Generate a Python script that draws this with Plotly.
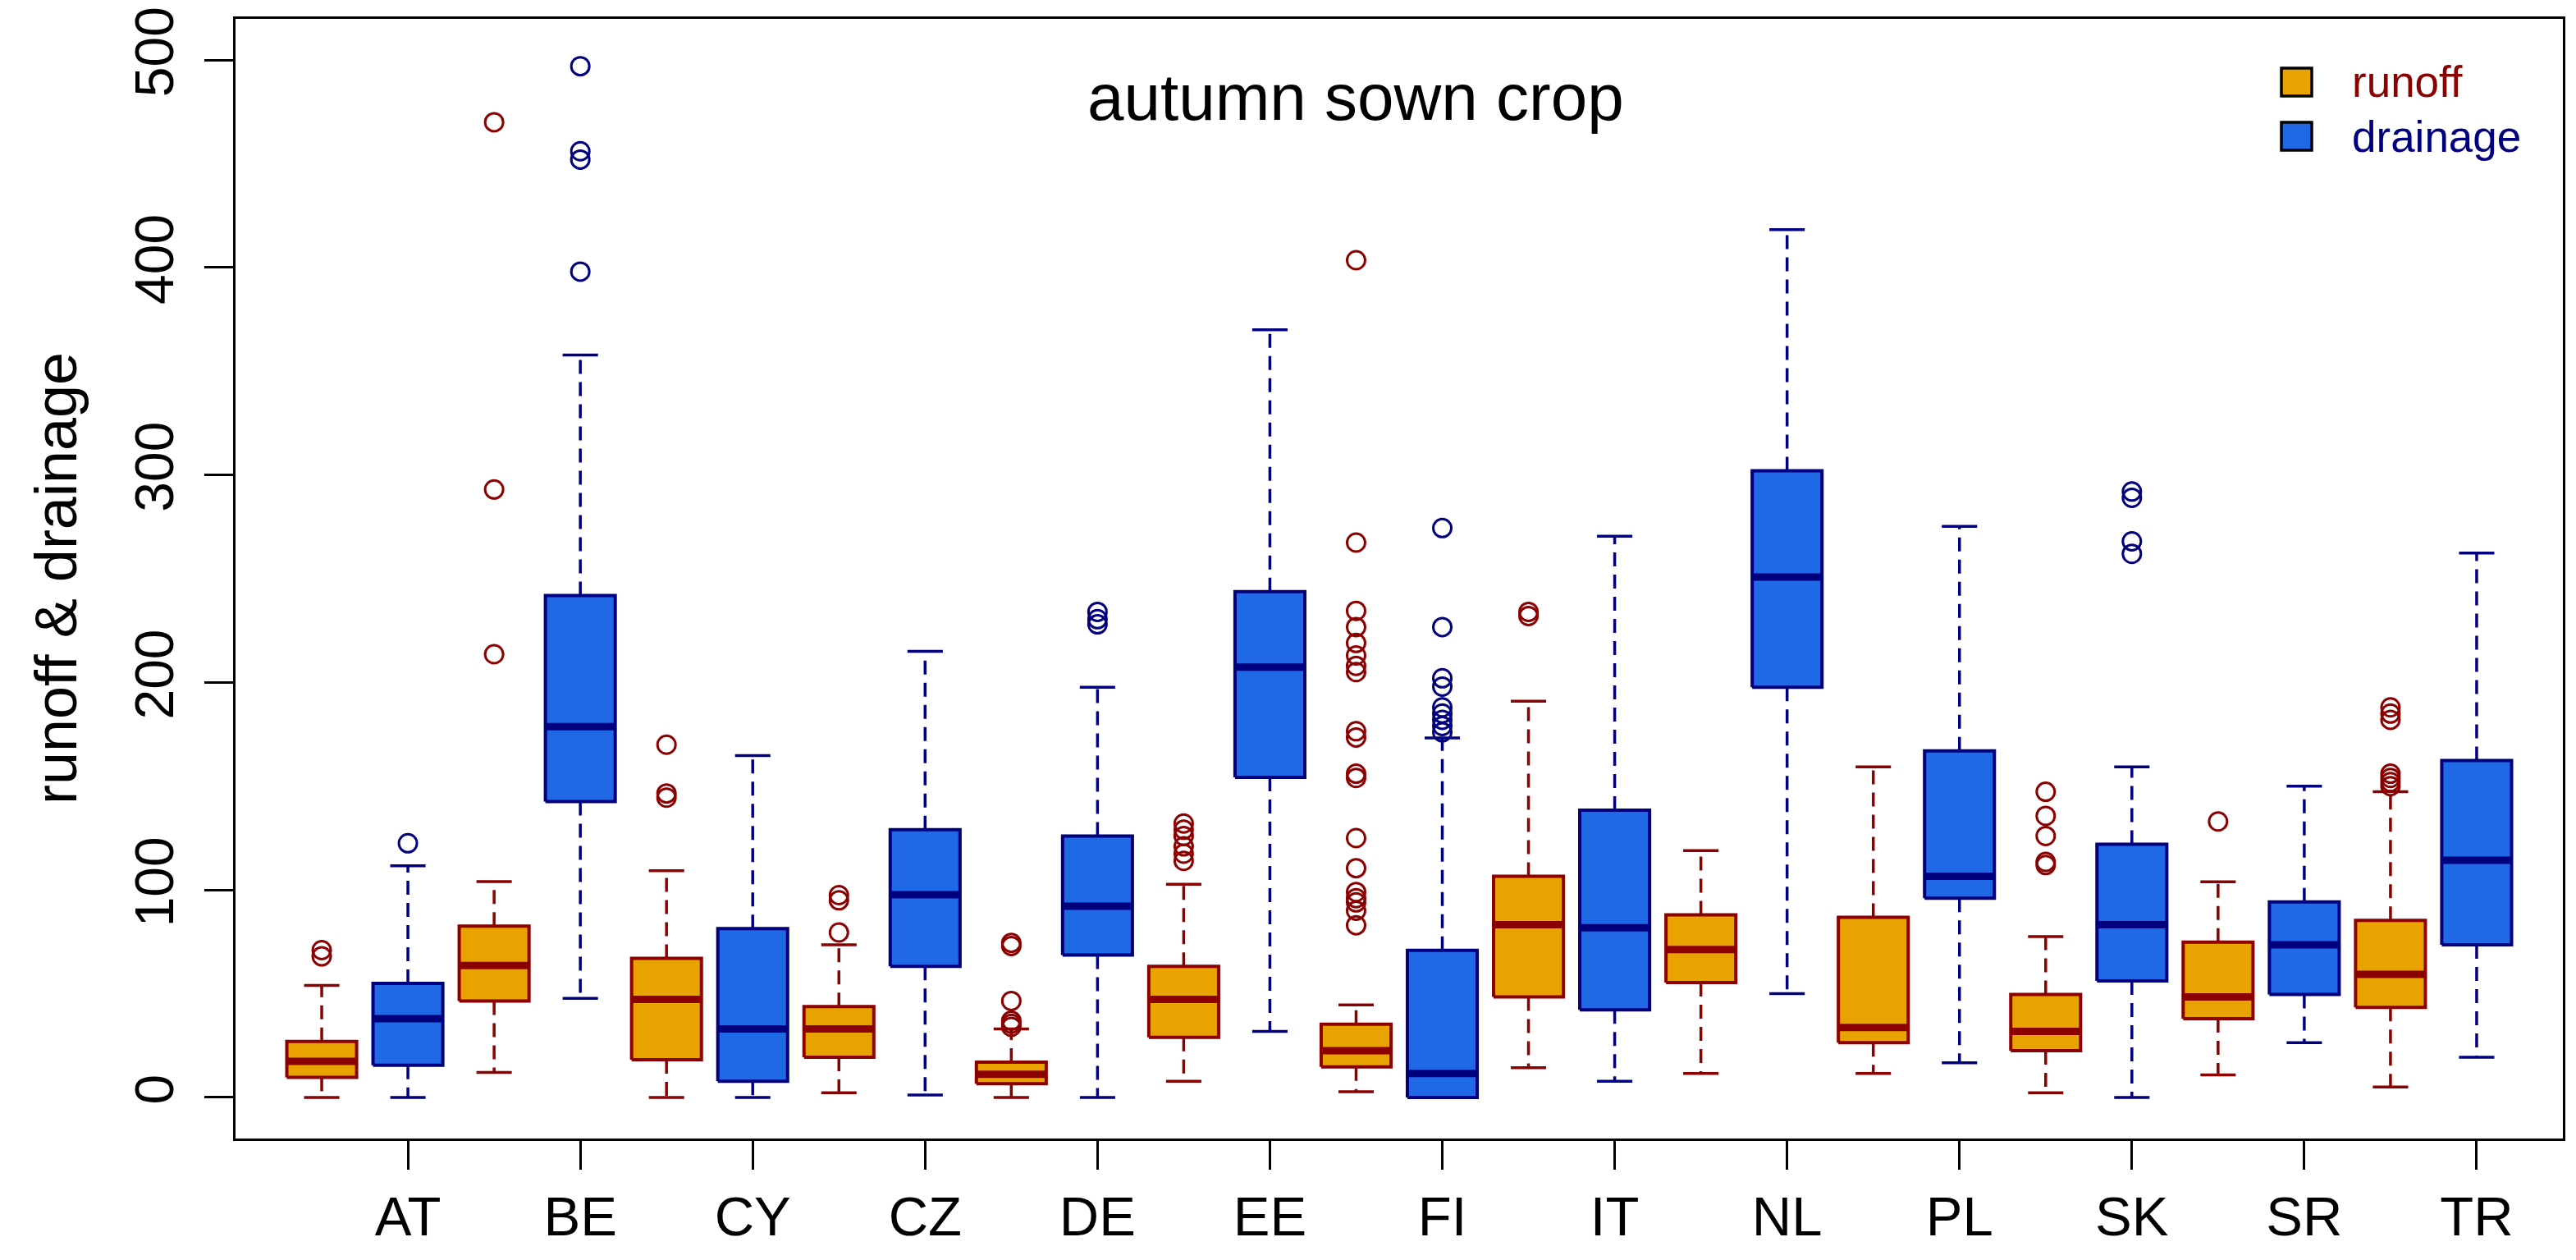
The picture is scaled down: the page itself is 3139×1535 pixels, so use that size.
import plotly.graph_objects as go

# ---------------- data ----------------
countries = ["AT", "BE", "CY", "CZ", "DE", "EE", "FI", "IT", "NL", "PL", "SK", "SR", "TR"]

runoff_low = [0, 12, 0, 2.3, 0, 7.8, 2.7, 14.3, 11.6, 11.6, 2.3, 10.9, 5]
runoff_q1 = [9.7, 46.5, 18.2, 19.4, 6.6, 29, 14.7, 48.4, 55.4, 26.4, 22.5, 38, 43.4]
runoff_med = [17.4, 63.6, 47.3, 33, 11.2, 47.3, 22.5, 83.3, 71.3, 33.7, 31.8, 48.4, 59.3]
runoff_q3 = [27, 82.6, 67, 43.8, 17, 63.2, 35.3, 106.6, 88, 86.8, 49.6, 74.8, 85.3]
runoff_high = [54, 104, 109.3, 73.6, 33, 102.7, 44.6, 191, 119, 159.3, 77.5, 103.9, 147.3]
runoff_out = [
    [68, 71],
    [213.6, 293, 470],
    [144.5, 146.5, 170],
    [79.5, 95, 97.5],
    [34, 35.5, 37, 46.5, 73, 74.5],
    [114, 117.5, 121, 126, 129, 132],
    [83, 90, 94, 96, 99, 110.5, 125, 154, 156, 173.5, 176.5, 205, 208, 213, 219, 226.7, 234.5, 267.4, 403.5],
    [232, 234],
    [],
    [],
    [112, 113.5, 126, 135.7, 147.3],
    [133],
    [150, 152, 154, 156, 182, 185, 188],
]

drain_low = [0, 47.7, 0, 1.2, 0, 31.8, 0, 7.8, 50, 16.7, 0, 26.4, 19.4]
drain_q1 = [15.5, 142.6, 7.8, 63.2, 68.6, 154.3, 0, 42.2, 197.7, 96, 56.2, 49.6, 73.6]
drain_med = [38, 178.7, 33, 97.7, 92.2, 207.4, 11.6, 81.8, 250.8, 106.6, 83.3, 73.6, 114.3]
drain_q3 = [55, 241.9, 81.4, 129, 126, 243.8, 70.9, 138.4, 302, 167, 122, 94.2, 162.4]
drain_high = [111.6, 357.8, 164.7, 215, 197.7, 370, 173.3, 270.5, 418.2, 275.2, 159.3, 150, 262.4]
drain_out = [
    [122.5],
    [398, 452, 456, 497],
    [],
    [],
    [228, 230.5, 234],
    [],
    [176, 179, 182, 185, 188, 198, 202, 226.7, 274.4],
    [],
    [],
    [],
    [262, 268, 289, 292],
    [],
    [],
]

series_names = ["runoff", "drainage"]
title_text = "autumn sown crop"
y_title = "runoff & drainage"
y_ticks = [0, 100, 200, 300, 400, 500]

# ---------------- styling ----------------
PAGE_OFF = 8                      # default body margin of the html page
W, H = 3139 - 2 * PAGE_OFF, 1535 - 2 * PAGE_OFF
ML, MR, MT, MB = 279, 8, 15, 140
FONT = "Liberation Sans, Arial, Helvetica, sans-serif"
ORANGE, ORANGE_EDGE = "#E9A300", "#8B0000"
BLUE, BLUE_EDGE = "#1F68E6", "#00007F"
HALF_BOX, HALF_STAPLE = 0.405, 0.205

fig = go.Figure()


def add_group(offset, lo, q1, med, q3, hi, outs, fill, edge):
    xs = [2 * i + offset for i in range(len(countries))]
    wx, wy, sx, sy, bx, by, mx, my, ox, oy = [], [], [], [], [], [], [], [], [], []
    for x, a, b, m, c, d, o in zip(xs, lo, q1, med, q3, hi, outs):
        wx += [x, x, None, x, x, None]
        wy += [b, a, None, c, d, None]
        sx += [x - HALF_STAPLE, x + HALF_STAPLE, None, x - HALF_STAPLE, x + HALF_STAPLE, None]
        sy += [a, a, None, d, d, None]
        bx += [x - HALF_BOX, x + HALF_BOX, x + HALF_BOX, x - HALF_BOX, x - HALF_BOX, None]
        by += [b, b, c, c, b, None]
        mx += [x - HALF_BOX, x + HALF_BOX, None]
        my += [m, m, None]
        ox += [x] * len(o)
        oy += list(o)
    fig.add_trace(go.Scatter(x=wx, y=wy, mode="lines", hoverinfo="skip", showlegend=False,
                             line=dict(color=edge, width=3.5, dash="17px,10px")))
    fig.add_trace(go.Scatter(x=sx, y=sy, mode="lines", hoverinfo="skip", showlegend=False,
                             line=dict(color=edge, width=3.5)))
    fig.add_trace(go.Scatter(x=bx, y=by, mode="lines", fill="toself", fillcolor=fill,
                             hoverinfo="skip", showlegend=False, line=dict(color=edge, width=4)))
    fig.add_trace(go.Scatter(x=mx, y=my, mode="lines", hoverinfo="skip", showlegend=False,
                             line=dict(color=edge, width=9)))
    fig.add_trace(go.Scatter(x=ox, y=oy, mode="markers", hoverinfo="skip", showlegend=False,
                             marker=dict(symbol="circle-open", size=22, color=edge,
                                         line=dict(width=3, color=edge))))


add_group(1, runoff_low, runoff_q1, runoff_med, runoff_q3, runoff_high, runoff_out, ORANGE, ORANGE_EDGE)
add_group(2, drain_low, drain_q1, drain_med, drain_q3, drain_high, drain_out, BLUE, BLUE_EDGE)

PW, PH = W - ML - MR, H - MT - MB


def px(xp):
    """page pixel x -> paper coordinate"""
    return (xp - PAGE_OFF - ML) / PW


def py(yp):
    """page pixel y -> paper coordinate"""
    return 1 - (yp - PAGE_OFF - MT) / PH


# legend (squares + coloured labels)
legend_rows = [(100, ORANGE, ORANGE_EDGE, series_names[0]), (166, BLUE, BLUE_EDGE, series_names[1])]
shapes = []
annotations = []
for yc, fc, tc, label in legend_rows:
    shapes.append(dict(type="rect", xref="paper", yref="paper",
                       x0=px(2780), x1=px(2817), y0=py(yc + 17), y1=py(yc - 17),
                       fillcolor=fc, line=dict(color="black", width=3.5)))
    annotations.append(dict(xref="paper", yref="paper", x=px(2864), y=py(yc), xanchor="left",
                            yanchor="middle", showarrow=False, text=label,
                            font=dict(family=FONT, size=53, color=tc)))

annotations.append(dict(xref="x", yref="y", x=13, y=482, showarrow=False, text=title_text,
                        xanchor="center", yanchor="middle",
                        font=dict(family=FONT, size=80, color="black")))
annotations.append(dict(xref="paper", yref="paper", x=px(68), y=0.5, showarrow=False, text=y_title,
                        textangle=-90, xanchor="center", yanchor="middle",
                        font=dict(family=FONT, size=72, color="black")))

fig.update_layout(
    width=W, height=H,
    margin=dict(l=ML, r=MR, t=MT, b=MB, autoexpand=False),
    paper_bgcolor="white", plot_bgcolor="white",
    showlegend=False,
    shapes=shapes, annotations=annotations,
    xaxis=dict(range=[0, 27], tickvals=[2 * i + 2 for i in range(len(countries))], ticktext=countries,
               ticks="outside", ticklen=35, tickwidth=3, tickcolor="black",
               ticklabeloverflow="allow", automargin=False,
               showline=True, mirror=True, linecolor="black", linewidth=3,
               showgrid=False, zeroline=False,
               tickfont=dict(family=FONT, size=67, color="black")),
    yaxis=dict(range=[-19.8, 519.8], tickvals=y_ticks, tickangle=-90,
               ticks="outside", ticklen=35, tickwidth=3, tickcolor="black",
               ticklabelstandoff=12, ticklabeloverflow="allow", automargin=False,
               showline=True, mirror=True, linecolor="black", linewidth=3,
               showgrid=False, zeroline=False,
               tickfont=dict(family=FONT, size=66, color="black")),
)

fig.write_html("out.html")
